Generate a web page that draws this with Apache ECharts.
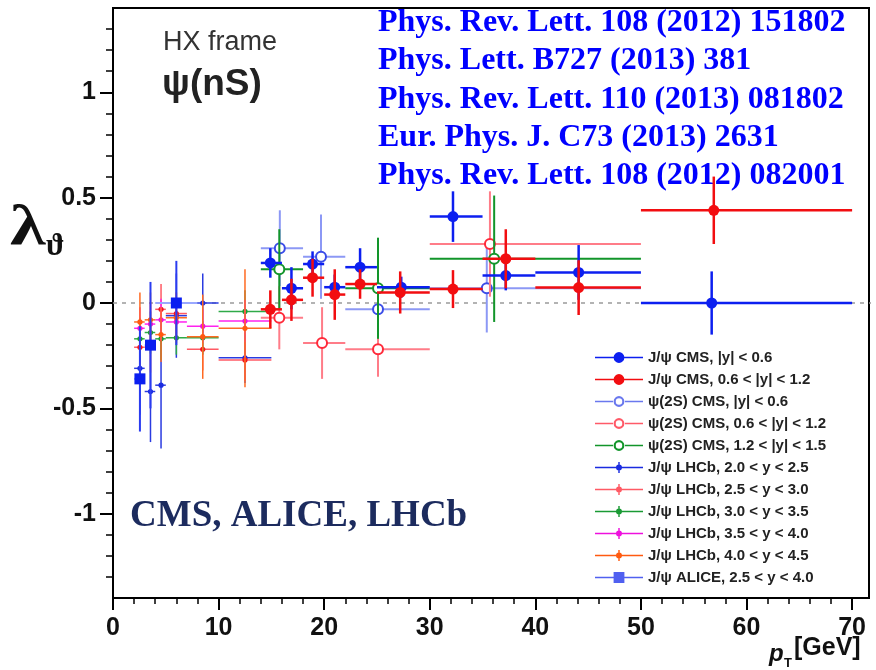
<!DOCTYPE html>
<html><head><meta charset="utf-8">
<script src="https://cdn.jsdelivr.net/npm/echarts@6/dist/echarts.min.js"></script>
<style>html,body{margin:0;padding:0;background:#fff}#c{width:876px;height:670px}</style>
</head><body><div id="c"></div>
<script>
// ---------- axis ticks ----------
const xTicks = [0, 10, 20, 30, 40, 50, 60, 70];
const xMinor = [2,4,6,8,12,14,16,18,22,24,26,28,32,34,36,38,42,44,46,48,52,54,56,58,62,64,66,68];
const yTicks = [-1, -0.5, 0, 0.5, 1];
const yMinor = [-1.3,-1.2,-1.1,-0.9,-0.8,-0.7,-0.6,-0.4,-0.3,-0.2,-0.1,0.1,0.2,0.3,0.4,0.6,0.7,0.8,0.9,1.1,1.2,1.3];
const refLineX = [0, 72];
const refLineY = [0, 0];

// ---------- J/psi CMS |y|<0.6 ----------
const cmsJ1_pt   = [14.9, 16.9, 18.9, 21.0, 23.4, 27.3, 32.2, 37.2, 44.1, 56.7];
const cmsJ1_lo   = [14, 16, 18, 20, 22, 25, 30, 35, 40, 50];
const cmsJ1_hi   = [16, 18, 20, 22, 25, 30, 35, 40, 50, 70];
const cmsJ1_lam  = [0.19, 0.07, 0.185, 0.075, 0.17, 0.075, 0.41, 0.13, 0.145, 0.0];
const cmsJ1_err  = [0.07, 0.1, 0.06, 0.06, 0.09, 0.05, 0.12, 0.07, 0.13, 0.15];
// ---------- J/psi CMS 0.6<|y|<1.2 ----------
const cmsJ2_pt   = [14.9, 16.9, 18.9, 21.0, 23.4, 27.2, 32.2, 37.2, 44.1, 56.9];
const cmsJ2_lo   = [14, 16, 18, 20, 22, 25, 30, 35, 40, 50];
const cmsJ2_hi   = [16, 18, 20, 22, 25, 30, 35, 40, 50, 70];
const cmsJ2_lam  = [-0.03, 0.015, 0.12, 0.04, 0.09, 0.05, 0.066, 0.21, 0.073, 0.44];
const cmsJ2_err  = [0.09, 0.1, 0.09, 0.12, 0.07, 0.1, 0.09, 0.14, 0.13, 0.16];
// ---------- psi(2S) CMS |y|<0.6 ----------
const cmsP1_pt   = [15.8, 19.7, 25.1, 35.4];
const cmsP1_lo   = [14, 18, 22, 30];
const cmsP1_hi   = [18, 22, 30, 50];
const cmsP1_lam  = [0.26, 0.22, -0.03, 0.07];
const cmsP1_err  = [0.18, 0.2, 0.12, 0.21];
// ---------- psi(2S) CMS 0.6<|y|<1.2 ----------
const cmsP2_pt   = [15.75, 19.8, 25.1, 35.7];
const cmsP2_lo   = [14, 18, 22, 30];
const cmsP2_hi   = [18, 22, 30, 50];
const cmsP2_lam  = [-0.07, -0.19, -0.22, 0.28];
const cmsP2_err  = [0.15, 0.17, 0.13, 0.25];
// ---------- psi(2S) CMS 1.2<|y|<1.5 ----------
const cmsP3_pt   = [15.75, 25.1, 36.1];
const cmsP3_lo   = [14, 22, 30];
const cmsP3_hi   = [18, 30, 50];
const cmsP3_lam  = [0.16, 0.07, 0.21];
const cmsP3_err  = [0.19, 0.24, 0.3];
// ---------- LHCb bins ----------
const lhcb_pt = [2.55, 3.55, 4.55, 6.0, 8.5, 12.5];
const lhcb_lo = [2, 3, 4, 5, 7, 10];
const lhcb_hi = [3, 4, 5, 7, 10, 15];
const lhcb1_lam = [-0.31, -0.42, -0.39, -0.06, 0.0, -0.26];
const lhcb1_err = [0.22, 0.24, 0.3, 0.2, 0.14, 0.12];
const lhcb2_lam = [-0.21, -0.21, -0.03, -0.05, -0.22, -0.27];
const lhcb2_err = [0.12, 0.12, 0.12, 0.1, 0.1, 0.1];
const lhcb3_lam = [-0.17, -0.14, -0.17, -0.165, -0.165, -0.04];
const lhcb3_err = [0.1, 0.1, 0.1, 0.08, 0.08, 0.1];
const lhcb4_lam = [-0.12, -0.1, -0.08, -0.09, -0.11, -0.086];
const lhcb4_err = [0.1, 0.1, 0.1, 0.08, 0.08, 0.1];
const lhcb5_lam = [-0.09, -0.08, -0.15, -0.07, -0.16, -0.12];
const lhcb5_err = [0.14, 0.13, 0.13, 0.12, 0.2, 0.28];
// ---------- ALICE 2.5<y<4.0 ----------
const alice_pt  = [2.55, 3.55, 6.0];
const alice_lo  = [2, 3, 4];
const alice_hi  = [3, 4, 8];
const alice_lam = [-0.36, -0.2, 0.0];
const alice_err = [0.25, 0.3, 0.2];

const names = [
  'J/ψ CMS, |y| < 0.6', 'J/ψ CMS, 0.6 < |y| < 1.2',
  'ψ(2S) CMS, |y| < 0.6', 'ψ(2S) CMS, 0.6 < |y| < 1.2', 'ψ(2S) CMS, 1.2 < |y| < 1.5',
  'J/ψ LHCb, 2.0 < y < 2.5', 'J/ψ LHCb, 2.5 < y < 3.0', 'J/ψ LHCb, 3.0 < y < 3.5',
  'J/ψ LHCb, 3.5 < y < 4.0', 'J/ψ LHCb, 4.0 < y < 4.5', 'J/ψ ALICE, 2.5 < y < 4.0'
];

function rows(pt, lo, hi, lam, err) {
  return pt.map((p, i) => [p, lo[i], hi[i], lam[i], err[i]]);
}

function errSeries(name, data, st, z) {
  return {
    name: name, type: 'custom', z: z, clip: true,
    itemStyle: { color: st.legend || st.mark },
    encode: { x: [0, 1, 2], y: [3] },
    data: data,
    renderItem: function (params, api) {
      const x = api.value(0), xl = api.value(1), xh = api.value(2), y = api.value(3), e = api.value(4);
      const c = api.coord([x, y]);
      const pl = api.coord([xl, y]), ph = api.coord([xh, y]);
      const pu = api.coord([x, y + e]), pd = api.coord([x, y - e]);
      const ch = [
        { type: 'line', shape: { x1: pl[0], y1: c[1], x2: ph[0], y2: c[1] }, style: { stroke: st.line, lineWidth: st.w } },
        { type: 'line', shape: { x1: c[0], y1: pu[1], x2: c[0], y2: pd[1] }, style: { stroke: st.vline || st.line, lineWidth: st.w } }
      ];
      if (st.marker === 'circle') ch.push({ type: 'circle', shape: { cx: c[0], cy: c[1], r: st.r }, style: { fill: st.mark } });
      else if (st.marker === 'ring') ch.push({ type: 'circle', shape: { cx: c[0], cy: c[1], r: st.r }, style: { fill: '#fff', stroke: st.mark, lineWidth: 2 } });
      else if (st.marker === 'square') ch.push({ type: 'rect', shape: { x: c[0] - st.r, y: c[1] - st.r, width: 2 * st.r, height: 2 * st.r }, style: { fill: st.mark } });
      else ch.push({ type: 'circle', shape: { cx: c[0], cy: c[1], r: st.r }, style: { fill: st.mark } });
      return { type: 'group', children: ch };
    }
  };
}

const iconFilled = 'path://M0,5.3h40v1.4h-40z M20,1.5a4.5,4.5 0 1,1 -0.01,0z';
const iconRing = 'path://M0,5.3h15v1.4h-15z M25,5.3h15v1.4h-15z M20,1.5a4.5,4.5 0 1,1 -0.01,0z M20,3.3a2.7,2.7 0 1,0 0.01,0z';
const iconSmall = 'path://M0,5.4h40v1.2h-40z M20,3.5a2.5,2.5 0 1,1 -0.01,0z M19.4,1.5h1.2v9h-1.2z';
const iconSquare = 'path://M0,5.3h40v1.4h-40z M15.5,1.5h9v9h-9z';
const icons = [iconFilled, iconFilled, iconRing, iconRing, iconRing, iconSmall, iconSmall, iconSmall, iconSmall, iconSmall, iconSquare];

const series = [
  errSeries(names[5], rows(lhcb_pt, lhcb_lo, lhcb_hi, lhcb1_lam, lhcb1_err), { line: '#2a3be0', mark: '#1a2be0', w: 1.5, marker: 'dot', r: 2.6 }, 2),
  errSeries(names[6], rows(lhcb_pt, lhcb_lo, lhcb_hi, lhcb2_lam, lhcb2_err), { line: '#ff5a64', mark: '#f01620', legend: '#ff5a64', w: 1.5, marker: 'dot', r: 2.6 }, 2),
  errSeries(names[7], rows(lhcb_pt, lhcb_lo, lhcb_hi, lhcb3_lam, lhcb3_err), { line: '#2faa48', mark: '#1a9a34', w: 1.5, marker: 'dot', r: 2.6 }, 2),
  errSeries(names[8], rows(lhcb_pt, lhcb_lo, lhcb_hi, lhcb4_lam, lhcb4_err), { line: '#ff22ee', mark: '#ee10dd', w: 1.5, marker: 'dot', r: 2.6 }, 2),
  errSeries(names[9], rows(lhcb_pt, lhcb_lo, lhcb_hi, lhcb5_lam, lhcb5_err), { line: '#ff6a22', mark: '#ff5a10', w: 1.5, marker: 'dot', r: 2.6 }, 2),
  errSeries(names[10], rows(alice_pt, alice_lo, alice_hi, alice_lam, alice_err), { line: '#9aa8ff', vline: '#2a3cf0', mark: '#0a1ef0', legend: '#5060f0', w: 2, marker: 'square', r: 5.5 }, 3),
  errSeries(names[2], rows(cmsP1_pt, cmsP1_lo, cmsP1_hi, cmsP1_lam, cmsP1_err), { line: '#8c98f5', mark: '#3a4ce8', legend: '#6a78ee', w: 2, marker: 'ring', r: 5 }, 4),
  errSeries(names[3], rows(cmsP2_pt, cmsP2_lo, cmsP2_hi, cmsP2_lam, cmsP2_err), { line: '#ff7c88', mark: '#ff2a3a', legend: '#ff5a68', w: 2, marker: 'ring', r: 5 }, 4),
  errSeries(names[4], rows(cmsP3_pt, cmsP3_lo, cmsP3_hi, cmsP3_lam, cmsP3_err), { line: '#12952a', mark: '#12952a', w: 2, marker: 'ring', r: 5 }, 4),
  errSeries(names[0], rows(cmsJ1_pt, cmsJ1_lo, cmsJ1_hi, cmsJ1_lam, cmsJ1_err), { line: '#0c1ff0', mark: '#0c1ff0', w: 2.5, marker: 'circle', r: 5.5 }, 5),
  errSeries(names[1], rows(cmsJ2_pt, cmsJ2_lo, cmsJ2_hi, cmsJ2_lam, cmsJ2_err), { line: '#f20d10', mark: '#f20d10', w: 2.5, marker: 'circle', r: 5.5 }, 6),
  {
    type: 'line', z: 1, silent: true, symbol: 'none',
    data: refLineX.map((x, i) => [x, refLineY[i]]),
    lineStyle: { color: '#9a9a9a', width: 1.6, type: [4, 5] }
  }
];

const tickFont = 'Liberation Sans';
const chart = echarts.init(document.getElementById('c'), null, { renderer: 'canvas' });
chart.setOption({
  backgroundColor: '#fff',
  animation: false,
  grid: { left: 113, right: 7, top: 8, bottom: 72, show: true, borderColor: '#000', borderWidth: 2, backgroundColor: 'transparent' },
  xAxis: [
    { type: 'value', min: 0, max: 71.6, position: 'bottom',
      axisLine: { onZero: false, lineStyle: { color: '#000', width: 2 } },
      axisTick: { customValues: xTicks, length: 12, lineStyle: { color: '#000', width: 2 } },
      axisLabel: { customValues: xTicks, fontSize: 25, fontWeight: 'bold', color: '#111', margin: 18, fontFamily: tickFont },
      splitLine: { show: false } },
    { type: 'value', min: 0, max: 71.6, position: 'bottom', offset: 0,
      axisLine: { onZero: false, show: false },
      axisTick: { customValues: xMinor, length: 6, lineStyle: { color: '#000', width: 1.5 } },
      axisLabel: { show: false }, splitLine: { show: false } }
  ],
  yAxis: [
    { type: 'value', min: -1.4, max: 1.4, position: 'left',
      axisLine: { onZero: false, lineStyle: { color: '#000', width: 2 } },
      axisTick: { customValues: yTicks, length: 13, lineStyle: { color: '#000', width: 2 } },
      axisLabel: { customValues: yTicks, fontSize: 25, fontWeight: 'bold', color: '#111', margin: 17, fontFamily: tickFont },
      splitLine: { show: false } },
    { type: 'value', min: -1.4, max: 1.4, position: 'left', offset: 0,
      axisLine: { onZero: false, show: false },
      axisTick: { customValues: yMinor, length: 7, lineStyle: { color: '#000', width: 1.5 } },
      axisLabel: { show: false }, splitLine: { show: false } }
  ],
  legend: {
    orient: 'vertical', left: 590, top: 345,
    itemWidth: 48, itemHeight: 14, itemGap: 7,
    textStyle: { fontSize: 15, fontWeight: 'bold', color: '#222', fontFamily: 'Liberation Sans' },
    data: names.map((n, i) => ({ name: n, icon: icons[i] })),
    selectedMode: false
  },
  graphic: [
    { type: 'text', left: 163, top: 29, style: { text: 'HX frame', font: '27px "Liberation Sans"', fill: '#333' } },
    { type: 'text', left: 162, top: 66, style: { text: 'ψ(nS)', font: 'bold 37px "Liberation Sans"', fill: '#222' } },
    { type: 'text', left: 378, top: 7, style: { text: 'Phys. Rev. Lett. 108 (2012) 151802', font: 'bold 32px "Liberation Serif"', fill: '#0000ff' } },
    { type: 'text', left: 378, top: 45, style: { text: 'Phys. Lett. B727 (2013) 381', font: 'bold 32px "Liberation Serif"', fill: '#0000ff' } },
    { type: 'text', left: 378, top: 84, style: { text: 'Phys. Rev. Lett. 110 (2013) 081802', font: 'bold 32px "Liberation Serif"', fill: '#0000ff' } },
    { type: 'text', left: 378, top: 122, style: { text: 'Eur. Phys. J. C73 (2013) 2631', font: 'bold 32px "Liberation Serif"', fill: '#0000ff' } },
    { type: 'text', left: 378, top: 160, style: { text: 'Phys. Rev. Lett. 108 (2012) 082001', font: 'bold 32px "Liberation Serif"', fill: '#0000ff' } },
    { type: 'text', left: 130, top: 498, style: { text: 'CMS, ALICE, LHCb', font: 'bold 37px "Liberation Serif"', fill: '#1c2b5e' } },
    { type: 'text', left: 10, top: 200, scaleX: 1.25, style: { text: 'λ', font: 'bold 58px "Liberation Serif"', fill: '#111' } },
    { type: 'text', left: 46, top: 231, style: { text: 'ϑ', font: 'bold 31px "Liberation Serif"', fill: '#111' } },
    { type: 'text', left: 769, top: 642, style: { text: 'p', font: 'italic bold 24px "Liberation Sans"', fill: '#111' } },
    { type: 'text', left: 784, top: 657, style: { text: 'T', font: 'bold 13px "Liberation Sans"', fill: '#111' } },
    { type: 'text', left: 794, top: 636, style: { text: '[GeV]', font: 'bold 25px "Liberation Sans"', fill: '#111' } }
  ],
  series: series
});
</script>
</body></html>
